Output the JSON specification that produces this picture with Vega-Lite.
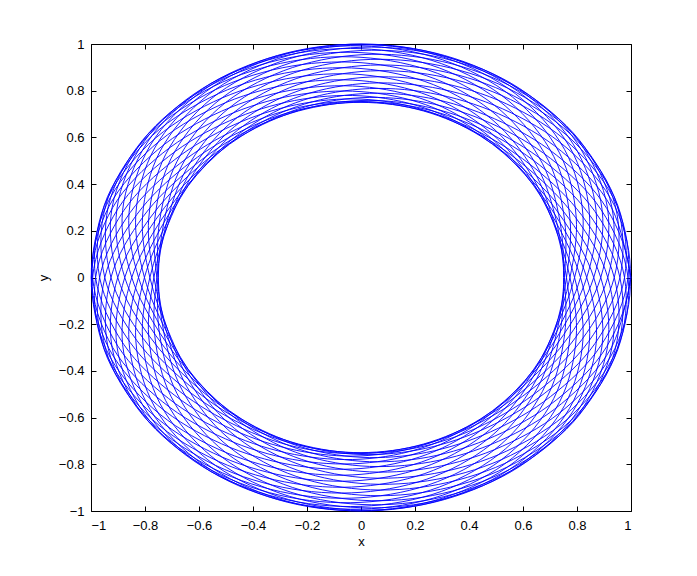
{
"$schema": "https://vega.github.io/schema/vega-lite/v6.json",
"width": 540, "height": 467,
"autosize": {"type": "none"},
"padding": {"left": 91, "top": 44, "right": 66, "bottom": 65},
"background": "white",
"config": {"view": {"stroke": "black", "strokeWidth": 1}, "font": "Liberation Sans"},
"layer": [
{
"data": {"values": [
{"x":1.000,"y":0},{"x":0.927,"y":0.301},{"x":0.743,"y":0.540},{"x":0.510,"y":0.701},{"x":0.257,"y":0.790},{"x":0,"y":0.807},{"x":-0.243,"y":0.748},{"x":-0.449,"y":0.618},{"x":-0.607,"y":0.441},{"x":-0.729,"y":0.237},{"x":-0.824,"y":0},{"x":-0.859,"y":-0.279},{"x":-0.780,"y":-0.567},{"x":-0.583,"y":-0.803},{"x":-0.309,"y":-0.951},{"x":0,"y":-0.999},{"x":0.307,"y":-0.943},{"x":0.572,"y":-0.787},{"x":0.754,"y":-0.548},{"x":0.822,"y":-0.267},
{"x":0.791,"y":0},{"x":0.715,"y":0.232},{"x":0.614,"y":0.446},{"x":0.463,"y":0.637},{"x":0.253,"y":0.778},{"x":0,"y":0.843},{"x":-0.269,"y":0.827},{"x":-0.533,"y":0.733},{"x":-0.771,"y":0.560},{"x":-0.944,"y":0.307},{"x":-0.994,"y":0},{"x":-0.901,"y":-0.293},{"x":-0.713,"y":-0.518},{"x":-0.487,"y":-0.671},{"x":-0.246,"y":-0.758},{"x":0,"y":-0.778},{"x":0.236,"y":-0.726},{"x":0.442,"y":-0.608},{"x":0.610,"y":-0.443},{"x":0.751,"y":-0.244},
{"x":0.862,"y":0},{"x":0.893,"y":0.290},{"x":0.798,"y":0.580},{"x":0.588,"y":0.809},{"x":0.308,"y":0.947},{"x":0,"y":0.986},{"x":-0.300,"y":0.924},{"x":-0.555,"y":0.765},{"x":-0.724,"y":0.526},{"x":-0.786,"y":0.255},{"x":-0.767,"y":0},{"x":-0.714,"y":-0.232},{"x":-0.629,"y":-0.457},{"x":-0.482,"y":-0.663},{"x":-0.264,"y":-0.813},{"x":0,"y":-0.882},{"x":0.281,"y":-0.864},{"x":0.554,"y":-0.762},{"x":0.793,"y":-0.576},{"x":0.951,"y":-0.309},
{"x":0.976,"y":0},{"x":0.867,"y":0.282},{"x":0.681,"y":0.495},{"x":0.467,"y":0.643},{"x":0.238,"y":0.732},{"x":0,"y":0.758},{"x":-0.232,"y":0.715},{"x":-0.441,"y":0.608},{"x":-0.623,"y":0.453},{"x":-0.782,"y":0.254},{"x":-0.901,"y":0},{"x":-0.922,"y":-0.299},{"x":-0.808,"y":-0.587},{"x":-0.585,"y":-0.805},{"x":-0.303,"y":-0.932},{"x":0,"y":-0.963},{"x":0.291,"y":-0.897},{"x":0.534,"y":-0.735},{"x":0.693,"y":-0.503},{"x":0.754,"y":-0.245},
{"x":0.753,"y":0},{"x":0.725,"y":0.235},{"x":0.653,"y":0.474},{"x":0.504,"y":0.693},{"x":0.276,"y":0.850},{"x":0,"y":0.920},{"x":-0.292,"y":0.898},{"x":-0.571,"y":0.786},{"x":-0.806,"y":0.585},{"x":-0.946,"y":0.307},{"x":-0.949,"y":0},{"x":-0.830,"y":-0.270},{"x":-0.653,"y":-0.474},{"x":-0.452,"y":-0.622},{"x":-0.233,"y":-0.717},{"x":0,"y":-0.750},{"x":0.232,"y":-0.715},{"x":0.448,"y":-0.617},{"x":0.644,"y":-0.468},{"x":0.818,"y":-0.266},
{"x":0.938,"y":0},{"x":0.942,"y":0.306},{"x":0.807,"y":0.587},{"x":0.575,"y":0.792},{"x":0.295,"y":0.907},{"x":0,"y":0.932},{"x":-0.280,"y":0.863},{"x":-0.511,"y":0.704},{"x":-0.663,"y":0.481},{"x":-0.730,"y":0.237},{"x":-0.751,"y":0},{"x":-0.746,"y":-0.242},{"x":-0.682,"y":-0.496},{"x":-0.527,"y":-0.725},{"x":-0.288,"y":-0.885},{"x":0,"y":-0.954},{"x":0.301,"y":-0.925},{"x":0.582,"y":-0.802},{"x":0.809,"y":-0.588},{"x":0.929,"y":-0.302},
{"x":0.914,"y":0},{"x":0.794,"y":0.258},{"x":0.629,"y":0.457},{"x":0.443,"y":0.610},{"x":0.232,"y":0.713},{"x":0,"y":0.754},{"x":-0.236,"y":0.727},{"x":-0.461,"y":0.635},{"x":-0.671,"y":0.488},{"x":-0.855,"y":0.278},{"x":-0.968,"y":0},{"x":-0.951,"y":-0.309},{"x":-0.798,"y":-0.580},{"x":-0.560,"y":-0.770},{"x":-0.284,"y":-0.875},{"x":0,"y":-0.895},{"x":0.268,"y":-0.826},{"x":0.489,"y":-0.673},{"x":0.637,"y":-0.463},{"x":0.716,"y":-0.233},
{"x":0.761,"y":0},{"x":0.774,"y":0.252},{"x":0.714,"y":0.518},{"x":0.548,"y":0.755},{"x":0.298,"y":0.916},{"x":0,"y":0.980},{"x":-0.307,"y":0.943},{"x":-0.588,"y":0.809},{"x":-0.803,"y":0.583},{"x":-0.904,"y":0.294},{"x":-0.875,"y":0},{"x":-0.761,"y":-0.247},{"x":-0.613,"y":-0.446},{"x":-0.441,"y":-0.607},{"x":-0.234,"y":-0.721},{"x":0,"y":-0.770},{"x":0.243,"y":-0.749},{"x":0.480,"y":-0.661},{"x":0.702,"y":-0.510},{"x":0.890,"y":-0.289},
{"x":0.989,"y":0},{"x":0.948,"y":0.308},{"x":0.779,"y":0.566},{"x":0.540,"y":0.743},{"x":0.273,"y":0.839},{"x":0,"y":0.856},{"x":-0.256,"y":0.789},{"x":-0.469,"y":0.646},{"x":-0.618,"y":0.449},{"x":-0.713,"y":0.232},{"x":-0.782,"y":0},{"x":-0.809,"y":-0.263},{"x":-0.744,"y":-0.541},{"x":-0.567,"y":-0.781},{"x":-0.305,"y":-0.938},{"x":0,"y":-0.996},{"x":0.309,"y":-0.951},{"x":0.585,"y":-0.806},{"x":0.786,"y":-0.571},{"x":0.871,"y":-0.283},
{"x":0.836,"y":0},{"x":0.735,"y":0.239},{"x":0.607,"y":0.441},{"x":0.446,"y":0.614},{"x":0.240,"y":0.740},{"x":0,"y":0.796},{"x":-0.253,"y":0.779},{"x":-0.502,"y":0.691},{"x":-0.734,"y":0.533},{"x":-0.920,"y":0.299},{"x":-0.999,"y":0},{"x":-0.934,"y":-0.303},{"x":-0.753,"y":-0.547},{"x":-0.517,"y":-0.712},{"x":-0.260,"y":-0.802},{"x":0,"y":-0.818},{"x":0.246,"y":-0.757},{"x":0.453,"y":-0.624},{"x":0.608,"y":-0.442},{"x":0.723,"y":-0.235},
{"x":0.813,"y":0},{"x":0.846,"y":0.275},{"x":0.772,"y":0.561},{"x":0.580,"y":0.798},{"x":0.308,"y":0.949},{"x":0,"y":1.000},{"x":-0.308,"y":0.947},{"x":-0.577,"y":0.794},{"x":-0.764,"y":0.555},{"x":-0.834,"y":0.271},{"x":-0.802,"y":0},{"x":-0.719,"y":-0.234},{"x":-0.610,"y":-0.443},{"x":-0.458,"y":-0.630},{"x":-0.249,"y":-0.767},{"x":0,"y":-0.830},{"x":0.265,"y":-0.814},{"x":0.525,"y":-0.722},{"x":0.763,"y":-0.554},{"x":0.940,"y":-0.305},
{"x":0.997,"y":0},{"x":0.910,"y":0.296},{"x":0.723,"y":0.525},{"x":0.494,"y":0.680},{"x":0.250,"y":0.769},{"x":0,"y":0.787},{"x":-0.238,"y":0.732},{"x":-0.444,"y":0.611},{"x":-0.608,"y":0.441},{"x":-0.743,"y":0.241},{"x":-0.849,"y":0},{"x":-0.883,"y":-0.287},{"x":-0.793,"y":-0.576},{"x":-0.587,"y":-0.808},{"x":-0.309,"y":-0.950},{"x":0,"y":-0.992},{"x":0.303,"y":-0.932},{"x":0.561,"y":-0.773},{"x":0.735,"y":-0.534},{"x":0.797,"y":-0.259},
{"x":0.774,"y":0},{"x":0.713,"y":0.232},{"x":0.623,"y":0.453},{"x":0.475,"y":0.654},{"x":0.260,"y":0.801},{"x":0,"y":0.869},{"x":-0.277,"y":0.851},{"x":-0.547,"y":0.752},{"x":-0.786,"y":0.571},{"x":-0.950,"y":0.309},{"x":-0.983,"y":0},{"x":-0.879,"y":-0.286},{"x":-0.692,"y":-0.503},{"x":-0.474,"y":-0.652},{"x":-0.240,"y":-0.740},{"x":0,"y":-0.764},{"x":0.233,"y":-0.717},{"x":0.441,"y":-0.607},{"x":0.617,"y":-0.448},{"x":0.771,"y":-0.251},
{"x":0.888,"y":0},{"x":0.913,"y":0.297},{"x":0.806,"y":0.585},{"x":0.587,"y":0.807},{"x":0.305,"y":0.939},{"x":0,"y":0.972},{"x":-0.294,"y":0.906},{"x":-0.541,"y":0.745},{"x":-0.703,"y":0.511},{"x":-0.764,"y":0.248},{"x":-0.756,"y":0},{"x":-0.720,"y":-0.234},{"x":-0.645,"y":-0.468},{"x":-0.496,"y":-0.683},{"x":-0.272,"y":-0.838},{"x":0,"y":-0.907},{"x":0.288,"y":-0.886},{"x":0.565,"y":-0.778},{"x":0.803,"y":-0.583},{"x":0.949,"y":-0.308},
{"x":0.959,"y":0},{"x":0.843,"y":0.274},{"x":0.662,"y":0.481},{"x":0.457,"y":0.629},{"x":0.235,"y":0.722},{"x":0,"y":0.752},{"x":-0.232,"y":0.713},{"x":-0.446,"y":0.613},{"x":-0.636,"y":0.462},{"x":-0.806,"y":0.262},{"x":-0.926,"y":0},{"x":-0.936,"y":-0.304},{"x":-0.809,"y":-0.588},{"x":-0.580,"y":-0.798},{"x":-0.298,"y":-0.917},{"x":0,"y":-0.943},{"x":0.284,"y":-0.874},{"x":0.519,"y":-0.714},{"x":0.672,"y":-0.488},{"x":0.737,"y":-0.239},
{"x":0.750,"y":0},
{"x":0.737,"y":0.239},{"x":0.672,"y":0.488},{"x":0.519,"y":0.714},{"x":0.284,"y":0.874},{"x":0,"y":0.943},{"x":-0.298,"y":0.917},{"x":-0.580,"y":0.798},{"x":-0.809,"y":0.588},{"x":-0.936,"y":0.304},{"x":-0.926,"y":0},{"x":-0.806,"y":-0.262},{"x":-0.636,"y":-0.462},{"x":-0.446,"y":-0.613},{"x":-0.232,"y":-0.713},{"x":0,"y":-0.752},{"x":0.235,"y":-0.722},{"x":0.457,"y":-0.629},{"x":0.662,"y":-0.481},{"x":0.843,"y":-0.274},{"x":0.959,"y":0},
{"x":0.949,"y":0.308},{"x":0.803,"y":0.583},{"x":0.565,"y":0.778},{"x":0.288,"y":0.886},{"x":0,"y":0.907},{"x":-0.272,"y":0.838},{"x":-0.496,"y":0.683},{"x":-0.645,"y":0.468},{"x":-0.720,"y":0.234},{"x":-0.756,"y":0},{"x":-0.764,"y":-0.248},{"x":-0.703,"y":-0.511},{"x":-0.541,"y":-0.745},{"x":-0.294,"y":-0.906},{"x":0,"y":-0.972},{"x":0.305,"y":-0.939},{"x":0.587,"y":-0.807},{"x":0.806,"y":-0.585},{"x":0.913,"y":-0.297},{"x":0.888,"y":0},
{"x":0.771,"y":0.251},{"x":0.617,"y":0.448},{"x":0.441,"y":0.607},{"x":0.233,"y":0.717},{"x":0,"y":0.764},{"x":-0.240,"y":0.740},{"x":-0.474,"y":0.652},{"x":-0.692,"y":0.503},{"x":-0.879,"y":0.286},{"x":-0.983,"y":0},{"x":-0.950,"y":-0.309},{"x":-0.786,"y":-0.571},{"x":-0.547,"y":-0.752},{"x":-0.277,"y":-0.851},{"x":0,"y":-0.869},{"x":0.260,"y":-0.801},{"x":0.475,"y":-0.654},{"x":0.623,"y":-0.453},{"x":0.713,"y":-0.232},{"x":0.774,"y":0},
{"x":0.797,"y":0.259},{"x":0.735,"y":0.534},{"x":0.561,"y":0.773},{"x":0.303,"y":0.932},{"x":0,"y":0.992},{"x":-0.309,"y":0.950},{"x":-0.587,"y":0.808},{"x":-0.793,"y":0.576},{"x":-0.883,"y":0.287},{"x":-0.849,"y":0},{"x":-0.743,"y":-0.241},{"x":-0.608,"y":-0.441},{"x":-0.444,"y":-0.611},{"x":-0.238,"y":-0.732},{"x":0,"y":-0.787},{"x":0.250,"y":-0.769},{"x":0.494,"y":-0.680},{"x":0.723,"y":-0.525},{"x":0.910,"y":-0.296},{"x":0.997,"y":0},
{"x":0.940,"y":0.305},{"x":0.763,"y":0.554},{"x":0.525,"y":0.722},{"x":0.265,"y":0.814},{"x":0,"y":0.830},{"x":-0.249,"y":0.767},{"x":-0.458,"y":0.630},{"x":-0.610,"y":0.443},{"x":-0.719,"y":0.234},{"x":-0.802,"y":0},{"x":-0.834,"y":-0.271},{"x":-0.764,"y":-0.555},{"x":-0.577,"y":-0.794},{"x":-0.308,"y":-0.947},{"x":0,"y":-1.000},{"x":0.308,"y":-0.949},{"x":0.580,"y":-0.798},{"x":0.772,"y":-0.561},{"x":0.846,"y":-0.275},{"x":0.813,"y":0},
{"x":0.723,"y":0.235},{"x":0.608,"y":0.442},{"x":0.453,"y":0.624},{"x":0.246,"y":0.757},{"x":0,"y":0.818},{"x":-0.260,"y":0.802},{"x":-0.517,"y":0.712},{"x":-0.753,"y":0.547},{"x":-0.934,"y":0.303},{"x":-0.999,"y":0},{"x":-0.920,"y":-0.299},{"x":-0.734,"y":-0.533},{"x":-0.502,"y":-0.691},{"x":-0.253,"y":-0.779},{"x":0,"y":-0.796},{"x":0.240,"y":-0.740},{"x":0.446,"y":-0.614},{"x":0.607,"y":-0.441},{"x":0.735,"y":-0.239},{"x":0.836,"y":0},
{"x":0.871,"y":0.283},{"x":0.786,"y":0.571},{"x":0.585,"y":0.806},{"x":0.309,"y":0.951},{"x":0,"y":0.996},{"x":-0.305,"y":0.938},{"x":-0.567,"y":0.781},{"x":-0.744,"y":0.541},{"x":-0.809,"y":0.263},{"x":-0.782,"y":0},{"x":-0.713,"y":-0.232},{"x":-0.618,"y":-0.449},{"x":-0.469,"y":-0.646},{"x":-0.256,"y":-0.789},{"x":0,"y":-0.856},{"x":0.273,"y":-0.839},{"x":0.540,"y":-0.743},{"x":0.779,"y":-0.566},{"x":0.948,"y":-0.308},{"x":0.989,"y":0},
{"x":0.890,"y":0.289},{"x":0.702,"y":0.510},{"x":0.480,"y":0.661},{"x":0.243,"y":0.749},{"x":0,"y":0.770},{"x":-0.234,"y":0.721},{"x":-0.441,"y":0.607},{"x":-0.613,"y":0.446},{"x":-0.761,"y":0.247},{"x":-0.875,"y":0},{"x":-0.904,"y":-0.294},{"x":-0.803,"y":-0.583},{"x":-0.588,"y":-0.809},{"x":-0.307,"y":-0.943},{"x":0,"y":-0.980},{"x":0.298,"y":-0.916},{"x":0.548,"y":-0.755},{"x":0.714,"y":-0.518},{"x":0.774,"y":-0.252},{"x":0.761,"y":0},
{"x":0.716,"y":0.233},{"x":0.637,"y":0.463},{"x":0.489,"y":0.673},{"x":0.268,"y":0.826},{"x":0,"y":0.895},{"x":-0.284,"y":0.875},{"x":-0.560,"y":0.770},{"x":-0.798,"y":0.580},{"x":-0.951,"y":0.309},{"x":-0.968,"y":0},{"x":-0.855,"y":-0.278},{"x":-0.671,"y":-0.488},{"x":-0.461,"y":-0.635},{"x":-0.236,"y":-0.727},{"x":0,"y":-0.754},{"x":0.232,"y":-0.713},{"x":0.443,"y":-0.610},{"x":0.629,"y":-0.457},{"x":0.794,"y":-0.258},{"x":0.914,"y":0},
{"x":0.929,"y":0.302},{"x":0.809,"y":0.588},{"x":0.582,"y":0.802},{"x":0.301,"y":0.925},{"x":0,"y":0.954},{"x":-0.288,"y":0.885},{"x":-0.527,"y":0.725},{"x":-0.682,"y":0.496},{"x":-0.746,"y":0.242},{"x":-0.751,"y":0},{"x":-0.730,"y":-0.237},{"x":-0.663,"y":-0.481},{"x":-0.511,"y":-0.704},{"x":-0.280,"y":-0.863},{"x":0,"y":-0.932},{"x":0.295,"y":-0.907},{"x":0.575,"y":-0.792},{"x":0.807,"y":-0.587},{"x":0.942,"y":-0.306},{"x":0.938,"y":0},
{"x":0.818,"y":0.266},{"x":0.644,"y":0.468},{"x":0.448,"y":0.617},{"x":0.232,"y":0.715},{"x":0,"y":0.750},{"x":-0.233,"y":0.717},{"x":-0.452,"y":0.622},{"x":-0.653,"y":0.474},{"x":-0.830,"y":0.270},{"x":-0.949,"y":0},{"x":-0.946,"y":-0.307},{"x":-0.806,"y":-0.585},{"x":-0.571,"y":-0.786},{"x":-0.292,"y":-0.898},{"x":0,"y":-0.920},{"x":0.276,"y":-0.850},{"x":0.504,"y":-0.693},{"x":0.653,"y":-0.474},{"x":0.725,"y":-0.235},{"x":0.753,"y":0},
{"x":0.754,"y":0.245},{"x":0.693,"y":0.503},{"x":0.534,"y":0.735},{"x":0.291,"y":0.897},{"x":0,"y":0.963},{"x":-0.303,"y":0.932},{"x":-0.585,"y":0.805},{"x":-0.808,"y":0.587},{"x":-0.922,"y":0.299},{"x":-0.901,"y":0},{"x":-0.782,"y":-0.254},{"x":-0.623,"y":-0.453},{"x":-0.441,"y":-0.608},{"x":-0.232,"y":-0.715},{"x":0,"y":-0.758},{"x":0.238,"y":-0.732},{"x":0.467,"y":-0.643},{"x":0.681,"y":-0.495},{"x":0.867,"y":-0.282},{"x":0.976,"y":0},
{"x":0.951,"y":0.309},{"x":0.793,"y":0.576},{"x":0.554,"y":0.762},{"x":0.281,"y":0.864},{"x":0,"y":0.882},{"x":-0.264,"y":0.813},{"x":-0.482,"y":0.663},{"x":-0.629,"y":0.457},{"x":-0.714,"y":0.232},{"x":-0.767,"y":0},{"x":-0.786,"y":-0.255},{"x":-0.724,"y":-0.526},{"x":-0.555,"y":-0.765},{"x":-0.300,"y":-0.924},{"x":0,"y":-0.986},{"x":0.308,"y":-0.947},{"x":0.588,"y":-0.809},{"x":0.798,"y":-0.580},{"x":0.893,"y":-0.290},{"x":0.862,"y":0},
{"x":0.751,"y":0.244},{"x":0.610,"y":0.443},{"x":0.442,"y":0.608},{"x":0.236,"y":0.726},{"x":0,"y":0.778},{"x":-0.246,"y":0.758},{"x":-0.487,"y":0.671},{"x":-0.713,"y":0.518},{"x":-0.901,"y":0.293},{"x":-0.994,"y":0},{"x":-0.944,"y":-0.307},{"x":-0.771,"y":-0.560},{"x":-0.533,"y":-0.733},{"x":-0.269,"y":-0.827},{"x":0,"y":-0.843},{"x":0.253,"y":-0.778},{"x":0.463,"y":-0.637},{"x":0.614,"y":-0.446},{"x":0.715,"y":-0.232},{"x":0.791,"y":0},
{"x":0.822,"y":0.267},{"x":0.754,"y":0.548},{"x":0.572,"y":0.787},{"x":0.307,"y":0.943},{"x":0,"y":0.999},{"x":-0.309,"y":0.951},{"x":-0.583,"y":0.803},{"x":-0.780,"y":0.567},{"x":-0.859,"y":0.279},{"x":-0.824,"y":0},{"x":-0.729,"y":-0.237},{"x":-0.607,"y":-0.441},{"x":-0.449,"y":-0.618},{"x":-0.243,"y":-0.748},{"x":0,"y":-0.807},{"x":0.257,"y":-0.790},{"x":0.510,"y":-0.701},{"x":0.743,"y":-0.540},{"x":0.927,"y":-0.301},{"x":1.000,"y":0}
]},
"mark": {"type": "line", "interpolate": "catmull-rom", "color": "#0000ff", "strokeWidth": 0.9},
"encoding": {
"x": {"field": "x", "type": "quantitative", "scale": {"domain": [-1, 1], "nice": false, "zero": false},
"axis": {"orient": "bottom", "values": [-1,-0.8,-0.6,-0.4,-0.2,0,0.2,0.4,0.6,0.8,1], "format": "~g", "grid": false, "domain": false,
"tickSize": -5, "tickColor": "black", "labelPadding": 13, "labelFontSize": 13, "labelColor": "black", "labelFont": "Liberation Sans",
"title": "x", "titleFontSize": 13, "titleFontWeight": "normal", "titleColor": "black", "titleFont": "Liberation Sans", "titlePadding": 3}},
"y": {"field": "y", "type": "quantitative", "scale": {"domain": [-1, 1], "nice": false, "zero": false},
"axis": {"orient": "left", "values": [-1,-0.8,-0.6,-0.4,-0.2,0,0.2,0.4,0.6,0.8,1], "format": "~g", "grid": false, "domain": false,
"tickSize": -5, "tickColor": "black", "labelPadding": 12, "labelFontSize": 13, "labelColor": "black", "labelFont": "Liberation Sans",
"title": "y", "titleFontSize": 13, "titleFontWeight": "normal", "titleColor": "black", "titleFont": "Liberation Sans", "titlePadding": 8}},
"order": {"value": null}
}
},
{
"data": {"values": [{"x": 0, "y": 0}]},
"mark": {"type": "point", "opacity": 0},
"encoding": {
"x": {"field": "x", "type": "quantitative", "scale": {"domain": [-1, 1], "nice": false, "zero": false},
"axis": {"orient": "top", "values": [-1,-0.8,-0.6,-0.4,-0.2,0,0.2,0.4,0.6,0.8,1], "labels": false, "grid": false, "domain": false, "tickSize": -5, "tickColor": "black", "title": null}},
"y": {"field": "y", "type": "quantitative", "scale": {"domain": [-1, 1], "nice": false, "zero": false},
"axis": {"orient": "right", "values": [-1,-0.8,-0.6,-0.4,-0.2,0,0.2,0.4,0.6,0.8,1], "labels": false, "grid": false, "domain": false, "tickSize": -5, "tickColor": "black", "title": null}}
}
}
],
"resolve": {"axis": {"x": "independent", "y": "independent"}}
}
